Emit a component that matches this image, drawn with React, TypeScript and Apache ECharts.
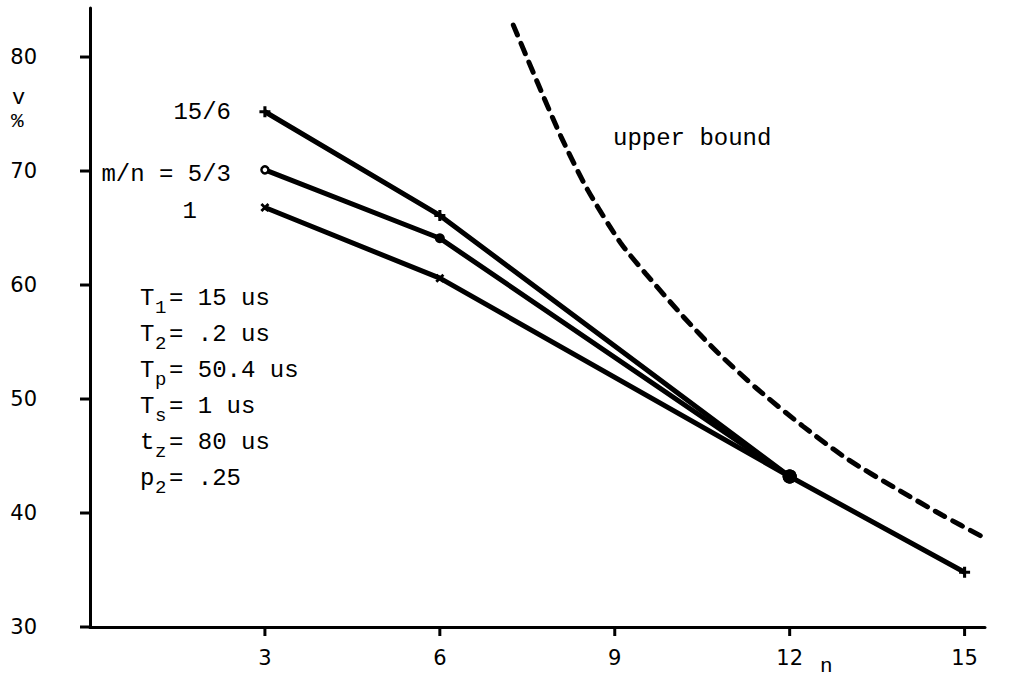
import React, { useEffect, useRef } from "react";
import * as echarts from "echarts";

const xTicks = [3, 6, 9, 12, 15];
const yTicks = [30, 40, 50, 60, 70, 80];

const nA = [3, 6, 12, 15];
const vA = [75.2, 66.1, 43.2, 34.8];
const mA = ["plus", "plus", "bigdot", "plus"];

const nB = [3, 6, 12];
const vB = [70.1, 64.1, 43.2];
const mB = ["ring", "dot", "bigdot"];

const nC = [3, 6, 12];
const vC = [66.8, 60.6, 43.2];
const mC = ["cross", "cross", "bigdot"];

const boundN = [7.26, 7.68, 8.08, 8.54, 9.1, 9.53, 10.18, 10.76, 11.44, 12.23, 13.0, 13.84, 14.62, 15.31];
const boundV = [82.8, 77.7, 73.0, 68.3, 63.7, 61.0, 57.2, 54.1, 50.9, 47.6, 44.7, 42.1, 39.8, 37.9];

const params = [
  { base: "T", sub: "1", rest: "= 15 us" },
  { base: "T", sub: "2", rest: "= .2 us" },
  { base: "T", sub: "p", rest: "= 50.4 us" },
  { base: "T", sub: "s", rest: "= 1 us" },
  { base: "t", sub: "z", rest: "= 80 us" },
  { base: "p", sub: "2", rest: "= .25" },
];

const MONO = "'Liberation Mono', 'DejaVu Sans Mono', monospace";
const SANS = "'DejaVu Sans', sans-serif";
const PLUS = "path://M-1.4,-5H1.4V-1.4H5V1.4H1.4V5H-1.4V1.4H-5V-1.4H-1.4Z";

function marker(kind: string) {
  switch (kind) {
    case "plus":
      return { symbol: PLUS, symbolSize: 11, itemStyle: { color: "#000" } };
    case "cross":
      return { symbol: PLUS, symbolSize: 10, symbolRotate: 45, itemStyle: { color: "#000" } };
    case "ring":
      return { symbol: "circle", symbolSize: 7, itemStyle: { color: "#fff", borderColor: "#000", borderWidth: 2.5 } };
    case "dot":
      return { symbol: "circle", symbolSize: 10, itemStyle: { color: "#000" } };
    default:
      return { symbol: "circle", symbolSize: 14, itemStyle: { color: "#000" } };
  }
}

function buildData(ns: number[], vs: number[], ms: string[]) {
  return ns.map((n, i) => ({ value: [n, vs[i]], ...marker(ms[i]) }));
}

export default function App() {
  const ref = useRef<HTMLDivElement>(null);
  useEffect(() => {
    if (!ref.current) return;
    const chart = echarts.init(ref.current, null, { renderer: "svg" });
    const lineStyle = { color: "#000", width: 5 };
    chart.setOption({
      animation: false,
      backgroundColor: "#fff",
      grid: { left: 90, right: 29, top: 8, bottom: 52 },
      xAxis: {
        type: "value",
        min: 0,
        max: 15.35,
        splitLine: { show: false },
        axisLine: { show: true, lineStyle: { color: "#000", width: 3 } },
        axisTick: { show: false },
        axisLabel: { customValues: xTicks, color: "#000", fontSize: 21, fontFamily: SANS, margin: 20 },
      },
      yAxis: {
        type: "value",
        min: 30,
        max: 84.3,
        splitLine: { show: false },
        axisLine: { show: true, lineStyle: { color: "#000", width: 3 } },
        axisTick: { show: false },
        axisLabel: { customValues: yTicks, color: "#000", fontSize: 21, fontFamily: SANS, margin: 53 },
      },
      series: [
        { type: "line", name: "15/6", data: buildData(nA, vA, mA), lineStyle, z: 3 },
        { type: "line", name: "5/3", data: buildData(nB, vB, mB), lineStyle, z: 3 },
        { type: "line", name: "1", data: buildData(nC, vC, mC), lineStyle, z: 3 },
        {
          type: "line",
          name: "upper bound",
          data: boundN.map((n, i) => [n, boundV[i]]),
          smooth: 0.25,
          showSymbol: false,
          symbol: "none",
          lineStyle: { color: "#000", width: 5, type: [11, 9], cap: "round" },
        },
      ],
    });

    const graphics: any[] = [
      { type: "text", x: 12, y: 98, style: { text: "v", font: `22px ${MONO}`, fill: "#000", verticalAlign: "middle" } },
      { type: "text", x: 11, y: 121, style: { text: "%", font: `21px ${MONO}`, fill: "#000", verticalAlign: "middle" } },
      { type: "text", x: 231, y: 112, style: { text: "15/6", font: `24px ${MONO}`, fill: "#000", align: "right", verticalAlign: "middle" } },
      { type: "text", x: 231, y: 174, style: { text: "m/n = 5/3", font: `24px ${MONO}`, fill: "#000", align: "right", verticalAlign: "middle" } },
      { type: "text", x: 197, y: 211, style: { text: "1", font: `24px ${MONO}`, fill: "#000", align: "right", verticalAlign: "middle" } },
      { type: "text", x: 613, y: 138, style: { text: "upper bound", font: `24px ${MONO}`, fill: "#000", verticalAlign: "middle" } },
      { type: "text", x: 820, y: 666, style: { text: "n", font: `21px ${MONO}`, fill: "#000", verticalAlign: "middle" } },
    ];
    params.forEach((p, i) => {
      const y = 298 + i * 36;
      graphics.push({ type: "text", x: 140, y, style: { text: p.base, font: `24px ${MONO}`, fill: "#000", verticalAlign: "middle" } });
      graphics.push({ type: "text", x: 155, y: y + 10, style: { text: p.sub, font: `19px ${MONO}`, fill: "#000", verticalAlign: "middle" } });
      graphics.push({ type: "text", x: 169, y, style: { text: p.rest, font: `24px ${MONO}`, fill: "#000", verticalAlign: "middle" } });
    });
    xTicks.forEach((x) => {
      const pt = chart.convertToPixel({ xAxisIndex: 0, yAxisIndex: 0 }, [x, 30]) as number[];
      if (pt) graphics.push({ type: "line", z: 10, shape: { x1: pt[0], y1: pt[1], x2: pt[0], y2: pt[1] + 9 }, style: { stroke: "#000", lineWidth: 3 } });
    });
    yTicks.forEach((y) => {
      const pt = chart.convertToPixel({ xAxisIndex: 0, yAxisIndex: 0 }, [0, y]) as number[];
      if (pt) graphics.push({ type: "line", z: 10, shape: { x1: pt[0], y1: pt[1], x2: pt[0] - 10, y2: pt[1] }, style: { stroke: "#000", lineWidth: 3 } });
    });
    chart.setOption({ graphic: graphics });
    return () => chart.dispose();
  }, []);
  return <div ref={ref} style={{ width: 1014, height: 679, position: "absolute", left: 0, top: 0 }} />;
}
